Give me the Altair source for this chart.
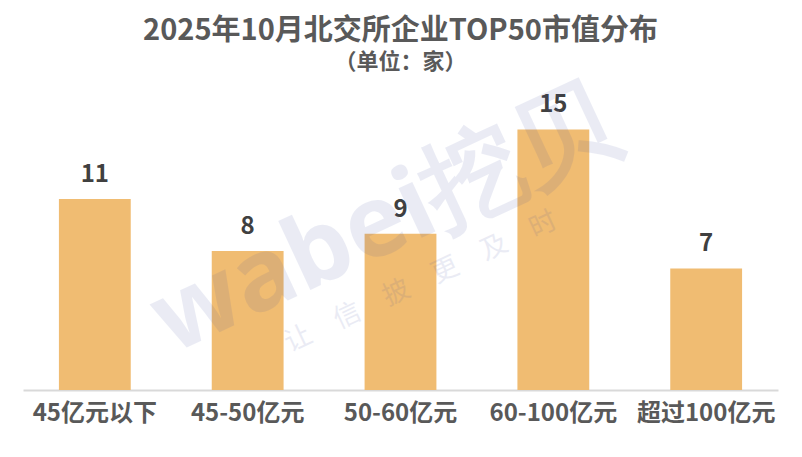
import altair as alt
import pandas as pd

categories = ["45亿元以下", "45-50亿元", "50-60亿元", "60-100亿元", "超过100亿元"]
counts = [11, 8, 9, 15, 7]

title_text = "2025年10月北交所企业TOP50市值分布"
subtitle_text = "（单位：家）"
watermark_main = "wabei挖贝"
watermark_sub = "让　信　披　更　及　时"

df = pd.DataFrame({"category": categories, "count": counts})
FONT = "Noto Sans CJK SC"

x_enc = alt.X("category:N", sort=categories, title=None,
              scale=alt.Scale(paddingInner=0.53, paddingOuter=0.235),
              axis=alt.Axis(labelAngle=0, labelFont=FONT, labelFontSize=24,
                            labelFontWeight="bold", labelColor="#595959",
                            labelPadding=11, ticks=False, domainColor="#d9d9d9",
                            domainWidth=2, labelLimit=300))
y_enc = alt.Y("count:Q", title=None, scale=alt.Scale(domain=[0, 16]), axis=None)

base = alt.Chart(df)
bars = base.mark_bar(color="#F0BC72").encode(x=x_enc, y=y_enc)
labels = base.mark_text(font=FONT, fontSize=24, fontWeight="bold", color="#404040",
                        baseline="alphabetic", dy=-17).encode(
    x=alt.X("category:N", sort=categories), y="count:Q", text="count:Q")

title_mark = alt.Chart(pd.DataFrame({"t": [title_text]})).mark_text(
    font=FONT, fontSize=29, fontWeight="bold", color="#595959",
    align="center", baseline="middle").encode(
    x=alt.value(377.5), y=alt.value(-81), text="t:N")
subtitle_mark = alt.Chart(pd.DataFrame({"t": [subtitle_text]})).mark_text(
    font=FONT, fontSize=22, fontWeight="bold", color="#595959",
    align="center", baseline="middle").encode(
    x=alt.value(377.5), y=alt.value(-50), text="t:N")

wm1 = alt.Chart(pd.DataFrame({"t": [watermark_main]})).mark_text(
    font="Noto Sans", fontSize=100, fontWeight="bold", color="#3a4aa0", opacity=0.1,
    angle=335, align="center", baseline="middle").encode(
    x=alt.value(362), y=alt.value(110), text="t:N")
wm2 = alt.Chart(pd.DataFrame({"t": [watermark_sub]})).mark_text(
    font=FONT, fontSize=27, color="#3a4aa0", opacity=0.1,
    angle=335, align="center", baseline="middle").encode(
    x=alt.value(398), y=alt.value(170), text="t:N")

chart = alt.layer(bars, labels, title_mark, subtitle_mark, wm1, wm2).properties(
    width=755, height=278, background="white",
    autosize=alt.AutoSizeParams(type="none"),
    padding={"left": 15, "top": 104, "right": 16, "bottom": 59},
).configure_view(stroke=None, strokeWidth=0)

chart.save("out.html", embed_options={"renderer": "svg", "actions": False})
